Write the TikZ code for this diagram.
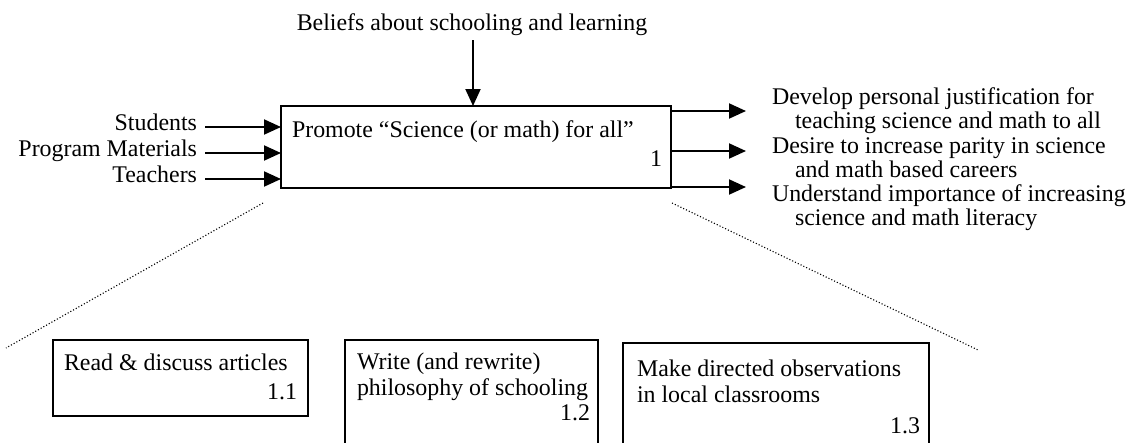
\documentclass[tikz,border=0pt]{standalone}
\usepackage{fontspec}
\setmainfont{Liberation Serif}
\usetikzlibrary{arrows.meta}
\begin{document}
\begin{tikzpicture}[x=1pt,y=-1pt,
  every node/.style={inner sep=0pt, outer sep=0pt, font=\fontsize{23.9}{26}\selectfont},
  lbl/.style={text height=0.68em, text depth=0pt},
  boxed/.style={draw, line width=2pt, anchor=north west},
  arr/.style={line width=2pt, -{Triangle[length=17pt,width=15pt]}},
  zoomline/.style={line width=1.1pt, dash pattern=on 1.1pt off 2pt}]
\useasboundingbox (0,0) rectangle (1127,442);
\clip (0,0) rectangle (1127,442);
% main box
\node[boxed, minimum width=390pt, minimum height=82pt] (main) at (281,106) {};
\node[anchor=base west] (maintxt) at (292,137) {Promote “Science (or math) for all”};
\node[anchor=base east] (mainnum) at (662,166) {1};
% control
\node[anchor=base] (ctrl) at (472,30) {Beliefs about schooling and learning};
\coordinate (ctrlstart) at (473,40);
\draw[arr] (ctrlstart) -- (ctrlstart |- main.north);
% inputs
\node[lbl, anchor=east] (in1) at (197,127) {Students};
\node[lbl, anchor=east] (in2) at (197,153) {Program Materials};
\node[lbl, anchor=east] (in3) at (197,179) {Teachers};
\draw[arr] ([xshift=8pt]in1.east) -- (in1.east -| main.west);
\draw[arr] ([xshift=8pt]in2.east) -- (in2.east -| main.west);
\draw[arr] ([xshift=8pt]in3.east) -- (in3.east -| main.west);
% outputs
\coordinate (o1) at (746,111);
\coordinate (o2) at (746,151);
\coordinate (o3) at (746,187);
\draw[arr] (o1 -| main.east) -- (o1);
\draw[arr] (o2 -| main.east) -- (o2);
\draw[arr] (o3 -| main.east) -- (o3);
\node[anchor=base west] (t1a) at (772,104) {Develop personal justification for};
\node[anchor=base west] (t1b) at (795,128) {teaching science and math to all};
\node[anchor=base west] (t2a) at (772,153) {Desire to increase parity in science};
\node[anchor=base west] (t2b) at (795,177) {and math based careers};
\node[anchor=base west] (t3a) at (772,201) {Understand importance of increasing};
\node[anchor=base west] (t3b) at (795,225) {science and math literacy};
% zoom lines
\coordinate (zl1) at (263,203);
\coordinate (zl2) at (6,348);
\coordinate (zr1) at (672,203);
\coordinate (zr2) at (978,350);
\draw[zoomline] (zl1) -- (zl2);
\draw[zoomline] (zr1) -- (zr2);
% sub boxes
\node[boxed, minimum width=255pt, minimum height=76pt] (b1) at (53,340) {};
\node[anchor=base west] (b1a) at (64,370) {Read \& discuss articles};
\node[anchor=base east] (b1n) at (297,399) {1.1};
\node[boxed, minimum width=253pt, minimum height=120pt] (b2) at (345,340) {};
\node[anchor=base west] (b2a) at (357,369) {Write (and rewrite)};
\node[anchor=base west] (b2b) at (357,395) {philosophy of schooling};
\node[anchor=base east] (b2n) at (590,420) {1.2};
\node[boxed, minimum width=306pt, minimum height=120pt] (b3) at (623,343) {};
\node[anchor=base west] (b3a) at (637,376) {Make directed observations};
\node[anchor=base west] (b3b) at (637,402) {in local classrooms};
\node[anchor=base east] (b3n) at (920,433) {1.3};
\end{tikzpicture}
\end{document}
